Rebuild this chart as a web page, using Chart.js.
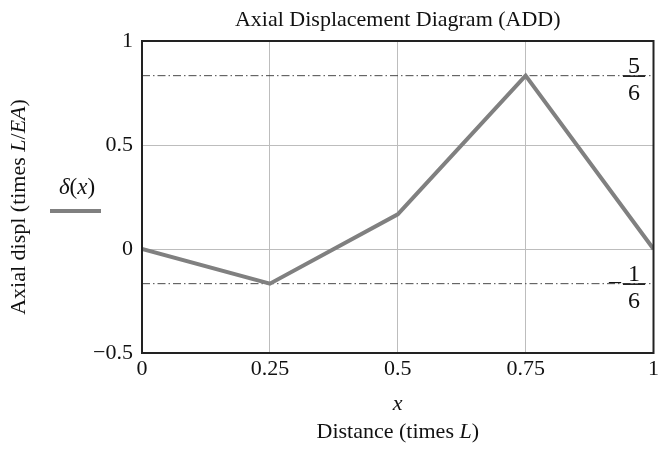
<!DOCTYPE html>
<html>
<head>
<meta charset="utf-8">
<script src="https://cdn.jsdelivr.net/npm/chart.js@4.4.1/dist/chart.umd.min.js"></script>
<style>
  html, body { margin: 0; padding: 0; background: #fff; }
  #wrap { width: 662px; height: 449px; }
</style>
</head>
<body>
<div id="wrap"><canvas id="myChart" width="662" height="449"></canvas></div>
<script>
// ===== data =====
const xValues = [0, 0.25, 0.5, 0.75, 1];
const deltaValues = [0, -1 / 6, 1 / 6, 5 / 6, 0];
const refLevels = [5 / 6, -1 / 6];
const refNumerators = ['5', '1'];
const refDenominators = ['6', '6'];
const refSigns = ['', '\u2013'];
const xTicks = [0, 0.25, 0.5, 0.75, 1];
const yTicks = [-0.5, 0, 0.5, 1];

const serif = '"Liberation Serif", "DejaVu Serif", serif';
const ctx = document.getElementById('myChart').getContext('2d');

const points = xValues.map((x, i) => ({ x: x, y: deltaValues[i] }));

// horizontal reference lines at 5/6 and -1/6, across the whole x range
const refSets = refLevels.map(v => ({
  data: [{ x: xTicks[0], y: v }, { x: xTicks[xTicks.length - 1], y: v }],
  showLine: true,
  pointRadius: 0,
  borderColor: '#4a4a4a',
  borderWidth: 1,
  borderDash: [8, 3, 1.5, 3]
}));

function fmt(v) {
  return v < 0 ? '\u2212' + String(-v) : String(v);
}

// draws text pieces in a row, some italic, centred on cx
function mixedText(c, pieces, cx, cy, size) {
  let total = 0;
  pieces.forEach(p => {
    c.font = (p[1] ? 'italic ' : '') + size + 'px ' + serif;
    total += c.measureText(p[0]).width;
  });
  let x = cx - total / 2;
  c.textAlign = 'left';
  c.textBaseline = 'middle';
  pieces.forEach(p => {
    c.font = (p[1] ? 'italic ' : '') + size + 'px ' + serif;
    c.fillText(p[0], x, cy);
    x += c.measureText(p[0]).width;
  });
}

const decor = {
  id: 'decor',
  afterDraw(chart) {
    const c = chart.ctx;
    const a = chart.chartArea;
    const ys = chart.scales.y;
    const cx = (a.left + a.right) / 2;
    c.save();
    c.fillStyle = '#111';

    // frame
    c.strokeStyle = '#222';
    c.lineWidth = 2;
    c.strokeRect(a.left, a.top, a.right - a.left, a.bottom - a.top);

    // title
    mixedText(c, [['Axial Displacement Diagram (ADD)', false]], cx, 20, 22);

    // x labels
    mixedText(c, [['x', true]], cx, 404, 22);
    mixedText(c, [['Distance (times ', false], ['L', true], [')', false]], cx, 432, 22);

    // y label, rotated
    c.save();
    c.translate(19, (a.top + a.bottom) / 2 + 10);
    c.rotate(-Math.PI / 2);
    mixedText(c, [['Axial displ (times ', false], ['L', true], ['/', false], ['EA', true], [')', false]], 0, 0, 22);
    c.restore();

    // legend
    c.strokeStyle = '#808080';
    c.lineWidth = 4;
    c.beginPath();
    c.moveTo(50, 211);
    c.lineTo(101, 211);
    c.stroke();
    mixedText(c, [['\u03b4', true], ['(', false], ['x', true], [')', false]], 77, 188, 23);

    // fractions at the reference lines
    refLevels.forEach((v, i) => {
      const py = ys.getPixelForValue(v);
      const fx = 634;
      c.strokeStyle = '#111';
      c.lineWidth = 1.5;
      c.beginPath();
      c.moveTo(fx - 11, py + 0.5);
      c.lineTo(fx + 11, py + 0.5);
      c.stroke();
      c.font = '24px ' + serif;
      c.textAlign = 'center';
      c.textBaseline = 'alphabetic';
      c.fillText(refNumerators[i], fx, py - 3);
      c.fillText(refDenominators[i], fx, py + 24);
      if (refSigns[i]) {
        c.textBaseline = 'middle';
        c.fillText(refSigns[i], fx - 19, py - 2);
      }
    });
    c.restore();
  }
};

const chart = new Chart(ctx, {
  type: 'scatter',
  data: {
    datasets: [
      {
        data: points,
        showLine: true,
        pointRadius: 0,
        borderColor: '#808080',
        borderWidth: 4,
        borderJoinStyle: 'miter',
        borderCapStyle: 'butt'
      }
    ].concat(refSets)
  },
  options: {
    responsive: false,
    animation: false,
    layout: { padding: { top: 41, right: 8, left: 0, bottom: 0 } },
    plugins: {
      legend: { display: false },
      title: { display: false },
      tooltip: { enabled: false }
    },
    scales: {
      x: {
        type: 'linear',
        min: 0,
        max: 1,
        afterFit: s => { s.height = 96; },
        afterBuildTicks: s => { s.ticks = xTicks.map(v => ({ value: v })); },
        ticks: {
          padding: 3,
          color: '#111',
          font: { family: serif, size: 22 },
          maxRotation: 0,
          callback: v => fmt(v)
        },
        grid: { color: '#bdbdbd', lineWidth: 1, drawTicks: false },
        border: { display: false }
      },
      y: {
        min: -0.5,
        max: 1,
        afterFit: s => { s.width = 142; },
        afterBuildTicks: s => { s.ticks = yTicks.map(v => ({ value: v })); },
        ticks: {
          padding: 9,
          color: '#111',
          font: { family: serif, size: 22 },
          callback: v => fmt(v)
        },
        grid: { color: '#bdbdbd', lineWidth: 1, drawTicks: false },
        border: { display: false }
      }
    }
  },
  plugins: [decor]
});
</script>
</body>
</html>
